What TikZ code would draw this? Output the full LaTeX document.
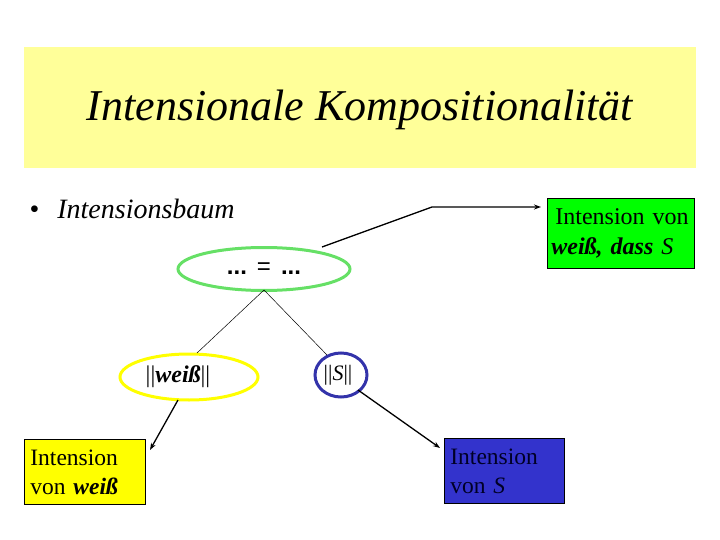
\documentclass[tikz,border=0pt]{standalone}
\usepackage{fontspec}
\setmainfont{Liberation Serif}
\setsansfont{Liberation Sans}
\usetikzlibrary{shapes.geometric,arrows.meta}
\definecolor{titlebg}{HTML}{FFFF99}
\definecolor{ellgreen}{HTML}{66E066}
\definecolor{ellyellow}{HTML}{FFFF00}
\definecolor{ellblue}{HTML}{3333AA}
\definecolor{boxyellow}{HTML}{FFFF00}
\definecolor{boxblue}{HTML}{3333CC}
\definecolor{boxgreen}{HTML}{00FF00}
\tikzset{
  ell/.style={ellipse, line width=3pt, inner sep=0pt},
  infobox/.style={draw=black, line width=0.8pt, anchor=north west, align=left, inner xsep=6pt, inner ysep=3pt, font=\fontsize{23.5}{29}\selectfont},
  tree/.style={line width=0.5pt},
  arr/.style={line width=1.3pt, -{Stealth[length=7pt,width=5pt]}},
}
\begin{document}
\begin{tikzpicture}[x=1pt,y=-1pt]
\useasboundingbox (0,0) rectangle (720,540);
% title
\fill[titlebg] (24,47) rectangle (696,168);
\node[font=\fontsize{44}{48}\selectfont\itshape] (title) at (360,110) {Intensionale Kompositionalität};
% bullet
\node[anchor=west, font=\fontsize{28}{30}\selectfont] (bullet) at (26,209) {•\hspace{18pt}\textit{Intensionsbaum}};
% ellipses
\node[ell, draw=ellgreen, minimum width=172pt, minimum height=43pt, font=\sffamily\fontsize{24}{26}\selectfont] (root) at (264,269) {\textbf{...}\hspace{10pt}=\hspace{10pt}\textbf{...}};
\node[ell, draw=ellyellow, minimum width=138pt, minimum height=46pt, font=\fontsize{24}{26}\selectfont] (w) at (189,377) {||\textbf{\textit{weiß}}||\hspace*{22pt}};
\node[ell, draw=ellblue, minimum width=52pt, minimum height=44pt, font=\fontsize{22}{24}\selectfont] (s) at (341,375) {||\textit{S}||\hspace*{6pt}};
% tree lines
\coordinate (rb) at (264,290);
\coordinate (wt) at (197,353);
\coordinate (st) at (327,355);
\draw[tree] (rb) -- (wt);
\draw[tree] (rb) -- (st);
% boxes
\node[infobox, fill=boxyellow, text width=109pt, minimum height=65pt] (wb) at (24,439) {Intension\\von \textbf{\textit{weiß}}};
\node[infobox, fill=boxblue, text width=108pt, minimum height=65pt, text=black!85!blue] (sb) at (444,438) {Intension\\von \textit{S}};
\node[infobox, fill=boxgreen, text width=139pt, minimum height=70pt, font=\fontsize{24}{30}\selectfont, inner xsep=4pt] (gb) at (547,198) {\hspace*{4pt}Intension von\\\textbf{\textit{weiß, dass}} \textit{S}};
% arrows
\coordinate (wa) at (178,400);
\coordinate (we) at (150,450);
\coordinate (sa) at (358,390);
\coordinate (se) at (440,448);
\coordinate (ga) at (322,247);
\coordinate (gk) at (432,207);
\coordinate (ge) at (541,207);
\draw[arr] (wa) -- (we);
\draw[arr] (sa) -- (se);
\draw[arr] (ga) -- (gk) -- (ge);
\end{tikzpicture}
\end{document}
